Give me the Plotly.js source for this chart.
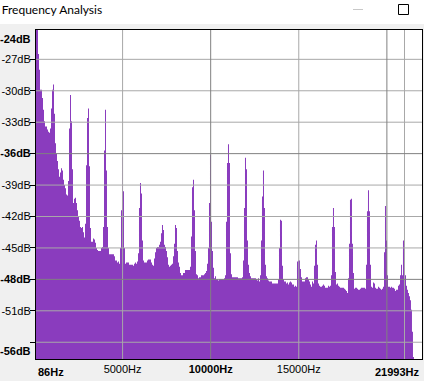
<!DOCTYPE html>
<html>
<head>
<meta charset="utf-8">
<script src="https://cdn.plot.ly/plotly-3.0.1.min.js"></script>
<style>
  html, body { margin: 0; padding: 0; background: #f0f0f0; }
  #chart { width: 424px; height: 381px; }
</style>
</head>
<body>
<div id="chart"></div>
<script>
// ---- Data ----
// Spectrum columns, first column at 86 Hz, one column every 56.75 Hz
const freqStart = 86;
const freqStep = 56.75;
const spectrumDb = [
  -24.0, -24.0, -26.5, -28.0, -29.9, -29.9, -30.7, -31.8, -32.9, -33.4,
  -33.4, -33.7, -33.9, -34.0, -33.6, -31.7, -29.9, -29.4, -32.2, -35.0,
  -36.0, -36.7, -37.5, -38.2, -37.8, -37.4, -37.6, -38.5, -39.0, -39.3,
  -39.9, -40.0, -38.6, -33.6, -30.4, -32.9, -37.5, -40.7, -40.3, -40.2,
  -40.7, -41.4, -42.0, -42.4, -43.0, -43.1, -43.0, -43.5, -44.0, -42.7,
  -37.1, -32.6, -31.7, -37.2, -43.1, -44.4, -44.4, -44.1, -44.2, -44.5,
  -45.0, -45.2, -45.3, -45.3, -45.3, -45.0, -44.9, -43.0, -35.7, -31.8,
  -37.6, -43.0, -45.0, -45.6, -45.6, -45.6, -45.6, -45.6, -45.8, -46.2,
  -46.2, -46.4, -46.3, -46.5, -45.0, -41.4, -36.3, -39.6, -45.0, -46.5,
  -46.4, -46.4, -46.4, -46.6, -46.6, -46.6, -46.6, -46.7, -46.5, -46.4,
  -46.5, -46.3, -45.5, -41.2, -38.8, -39.8, -44.3, -46.2, -46.4, -46.4,
  -46.4, -46.2, -46.1, -46.1, -46.1, -46.4, -46.6, -46.7, -46.0, -45.4,
  -45.0, -44.9, -44.9, -44.7, -44.4, -43.6, -42.8, -43.3, -44.7, -44.9,
  -45.3, -45.9, -46.6, -46.8, -46.7, -46.6, -46.5, -45.8, -44.6, -42.8,
  -43.1, -45.3, -46.4, -46.8, -47.4, -47.6, -47.6, -47.4, -47.4, -47.1,
  -47.1, -47.1, -47.1, -47.1, -46.8, -43.9, -39.2, -38.5, -41.4, -45.3,
  -47.5, -47.6, -47.9, -47.8, -47.8, -47.6, -47.6, -47.6, -47.5, -47.4,
  -47.2, -46.5, -45.0, -40.7, -36.1, -42.5, -45.3, -46.9, -47.9, -47.7,
  -48.0, -48.0, -48.1, -48.0, -48.0, -48.0, -48.0, -48.0, -47.9, -47.6,
  -42.5, -36.9, -35.1, -36.9, -45.5, -47.5, -47.8, -47.8, -47.8, -47.8,
  -47.8, -47.8, -47.9, -47.9, -47.9, -47.9, -47.8, -46.2, -41.2, -36.4,
  -37.5, -44.3, -46.6, -47.4, -47.7, -47.9, -47.9, -47.9, -47.9, -47.9,
  -48.0, -48.1, -47.9, -48.2, -47.6, -44.3, -40.1, -37.6, -41.2, -46.6,
  -47.7, -47.9, -48.1, -48.2, -48.2, -48.2, -48.4, -48.4, -48.4, -48.4,
  -48.4, -48.4, -48.0, -45.0, -42.3, -42.4, -46.7, -48.0, -48.2, -48.2,
  -48.4, -48.3, -48.5, -48.3, -48.2, -48.3, -48.5, -48.5, -48.7, -48.6,
  -48.7, -46.3, -46.2, -46.2, -47.0, -47.8, -48.2, -48.2, -48.2, -47.9,
  -47.8, -47.8, -48.0, -48.2, -48.5, -48.7, -48.2, -48.4, -46.7, -44.7,
  -44.3, -46.6, -48.4, -48.6, -48.7, -48.7, -48.6, -48.5, -48.6, -48.8,
  -48.8, -48.8, -48.6, -48.7, -48.6, -47.6, -43.0, -41.2, -43.0, -47.3,
  -48.5, -48.4, -48.6, -48.7, -48.8, -48.8, -48.8, -48.8, -48.9, -49.0,
  -49.1, -49.3, -47.9, -44.6, -40.4, -40.3, -44.6, -47.4, -48.9, -48.8,
  -48.8, -48.9, -49.0, -49.0, -48.9, -48.8, -48.8, -48.8, -48.8, -48.9,
  -46.6, -41.5, -39.5, -41.5, -46.6, -48.7, -48.8, -48.3, -48.4, -48.8,
  -48.9, -48.9, -48.7, -48.8, -48.9, -49.0, -48.9, -48.7, -45.4, -41.0,
  -44.3, -47.6, -48.7, -48.7, -48.8, -48.7, -48.8, -48.8, -48.9, -49.1,
  -49.0, -49.0, -48.6, -48.5, -47.6, -46.6, -47.6, -44.3, -45.5, -47.6,
  -48.6, -49.0, -49.3, -49.6, -50.0, -50.9, -53.0, -55.4, -70.0
];

// Axis ranges and ticks
const freqMin = 86;
const freqMax = 21993;
const dbMin = -55.6;
const dbMax = -24.2;
const floorDb = -70;

const xTickVals = [5000, 10000, 15000];
const xTickText = ['5000Hz', '<b>10000Hz</b>', '15000Hz'];
const xEndLabels = ['<b>86Hz</b>', '<b>21993Hz</b>'];

const yTickVals = [-27, -30, -33, -36, -39, -42, -45, -48, -51, -54];
const yTickText = ['-27dB', '-30dB', '-33dB', '<b>-36dB</b>', '-39dB', '-42dB', '-45dB', '<b>-48dB</b>', '-51dB', ''];
const yEndLabels = ['<b>-24dB</b>', '<b>-56dB</b>'];

const xGridMinor = [5000, 15000, 21000];
const xGridMajor = [10000, 20000];
const yGridMinor = [-27, -30, -33, -39, -42, -45, -51, -54];
const yGridMajor = [-36, -48];

// ---- Build ----
const freqs = spectrumDb.map((_, i) => freqStart + i * freqStep);
const fillColor = '#8a3cbe';

const traces = [
  { x: [freqMin, freqs[freqs.length - 1]], y: [floorDb, floorDb], mode: 'lines',
    line: { width: 0 }, hoverinfo: 'skip', showlegend: false },
  { x: freqs, y: spectrumDb, mode: 'lines', line: { width: 0, shape: 'hv' },
    fill: 'tonexty', fillcolor: fillColor, hoverinfo: 'skip', showlegend: false }
];

const shapes = [];
// title bar background
shapes.push({ type: 'rect', xref: 'paper', yref: 'paper', xsizemode: 'pixel', ysizemode: 'pixel',
  xanchor: 0, yanchor: 1, x0: -40, x1: 400, y0: 6, y1: 32, fillcolor: '#ffffff', line: { width: 0 }, layer: 'below' });
// minimize dash
shapes.push({ type: 'line', xref: 'paper', yref: 'paper', xsizemode: 'pixel', ysizemode: 'pixel',
  xanchor: 1, yanchor: 1, x0: -69, x1: -59, y0: 20.5, y1: 20.5, line: { color: '#c8c8c8', width: 1 } });
// maximize square
shapes.push({ type: 'rect', xref: 'paper', yref: 'paper', xsizemode: 'pixel', ysizemode: 'pixel',
  xanchor: 1, yanchor: 1, x0: -23.5, x1: -13.5, y0: 15.5, y1: 25.5, line: { color: '#000000', width: 1 } });

function vline(v, color) {
  shapes.push({ type: 'line', xref: 'x', yref: 'paper', x0: v, x1: v, y0: 0, y1: 1,
    line: { color: color, width: 1 }, layer: 'above' });
}
function hline(v, color) {
  shapes.push({ type: 'line', xref: 'paper', yref: 'y', x0: 0, x1: 1, y0: v, y1: v,
    line: { color: color, width: 1 }, layer: 'above' });
}
yGridMinor.forEach(v => hline(v, '#a8a8a8'));
xGridMinor.forEach(v => vline(v, '#a8a8a8'));
yGridMajor.forEach(v => hline(v, '#808080'));
xGridMajor.forEach(v => vline(v, '#808080'));

const labelFont = { family: 'Liberation Sans, Arial, sans-serif', size: 11, color: '#000000' };

const annotations = [
  { text: xEndLabels[0], x: freqMin, xref: 'x', xanchor: 'left', xshift: 0,
    y: 0, yref: 'paper', yanchor: 'middle', yshift: -13, showarrow: false, font: labelFont },
  { text: xEndLabels[1], x: freqMax, xref: 'x', xanchor: 'right', xshift: 0,
    y: 0, yref: 'paper', yanchor: 'middle', yshift: -13, showarrow: false, font: labelFont },
  { text: yEndLabels[0], x: 0, xref: 'paper', xanchor: 'right', xshift: -3,
    y: dbMax, yref: 'y', yanchor: 'middle', yshift: -9, showarrow: false, font: labelFont },
  { text: yEndLabels[1], x: 0, xref: 'paper', xanchor: 'right', xshift: -3,
    y: dbMin, yref: 'y', yanchor: 'middle', yshift: 8, showarrow: false, font: labelFont }
];

const layout = {
  width: 424, height: 381,
  margin: { l: 36, r: 2, t: 30, b: 22, pad: 0 },
  paper_bgcolor: '#f0f0f0',
  plot_bgcolor: '#ffffff',
  showlegend: false,
  title: { text: 'Frequency Analysis', xref: 'container', yref: 'container',
    x: 0.004, xanchor: 'left', y: 0.974, yanchor: 'middle',
    font: { family: 'Lato, sans-serif', size: 12, color: '#000000' } },
  xaxis: {
    range: [freqMin, freqMax], showgrid: false, zeroline: false,
    showline: true, linecolor: '#000000', linewidth: 1, mirror: true,
    tickmode: 'array', tickvals: xTickVals, ticktext: xTickText,
    ticks: '', tickfont: labelFont, fixedrange: true
  },
  yaxis: {
    range: [dbMin, dbMax], showgrid: false, zeroline: false,
    showline: true, linecolor: '#000000', linewidth: 1, mirror: true,
    tickmode: 'array', tickvals: yTickVals, ticktext: yTickText,
    ticks: 'outside', ticklen: 5, tickcolor: '#000000', tickwidth: 1,
    ticklabelstandoff: -3,
    tickfont: labelFont, fixedrange: true
  },
  shapes: shapes,
  annotations: annotations
};

Plotly.newPlot('chart', traces, layout, { displayModeBar: false, staticPlot: true });
</script>
</body>
</html>
